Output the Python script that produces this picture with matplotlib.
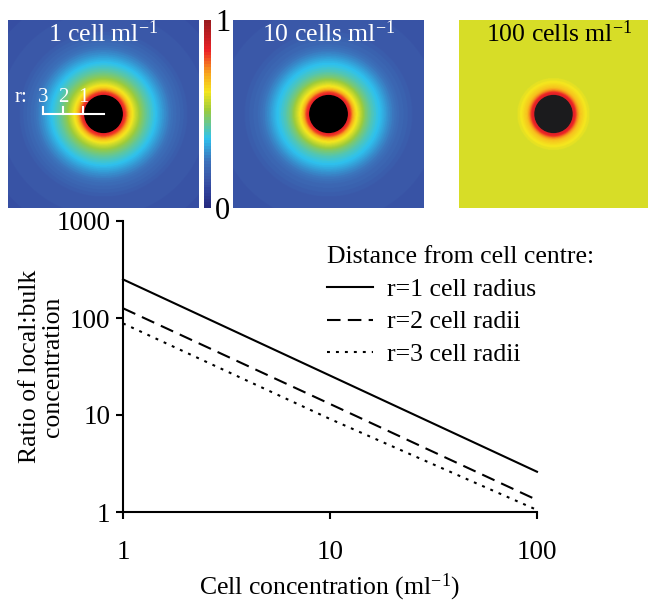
import numpy as np
import matplotlib
matplotlib.use("Agg")
import matplotlib.pyplot as plt
from matplotlib.colors import LinearSegmentedColormap, Normalize
from matplotlib.cm import ScalarMappable
from matplotlib.patches import Circle

plt.rcParams["font.family"] = ["Liberation Serif", "DejaVu Serif"]
plt.rcParams["mathtext.fontset"] = "custom"
plt.rcParams["mathtext.rm"] = "Liberation Serif"
plt.rcParams["mathtext.it"] = "Liberation Serif:italic"

# ratio of local:bulk concentration vs cell concentration
cell_conc = [1, 10, 100]
ratio_r1 = [250, 25.5, 2.6]
ratio_r2 = [126, 13.0, 1.33]
ratio_r3 = [88, 9.1, 1.05]
line_labels = ["r=1 cell radius", "r=2 cell radii", "r=3 cell radii"]

# radial profiles of the maps (distance in cell radii -> colour value)
panel_titles = ["1 cell ml$^{-1}$", "10 cells ml$^{-1}$", "100 cells ml$^{-1}$"]
cell_r = 0.93
prof_r = [0.93, 1.1, 1.2, 1.35, 1.6, 1.85, 2.15, 2.6, 3.0, 3.5, 4.2, 7.0]
prof_1 = [0.86, 0.81, 0.74, 0.65, 0.57, 0.50, 0.44, 0.37, 0.30, 0.23, 0.17, 0.13]
prof_10 = [0.86, 0.81, 0.73, 0.64, 0.56, 0.48, 0.42, 0.36, 0.29, 0.22, 0.17, 0.14]
prof_100 = [0.88, 0.83, 0.75, 0.67, 0.62, 0.59, 0.59, 0.59, 0.59, 0.59, 0.59, 0.59]
scale_ticks = [1, 2, 3]

cmap_pos = [0, 0.08, 0.15, 0.25, 0.37, 0.52, 0.62, 0.72, 0.84, 1.0]
cmap_cols = ["#262b80", "#2f409a", "#3a56a7", "#3c74bc", "#2ec3ef",
             "#9ccb3b", "#f5e61e", "#f8a51d", "#ec2227", "#9b1b1f"]
cmap = LinearSegmentedColormap.from_list("jetlike", list(zip(cmap_pos, cmap_cols)), N=64)

W, H = 649, 604
fig = plt.figure(figsize=(W / 100, H / 100), dpi=100)


def px_axes(x0, y0, x1, y1):
    return fig.add_axes([x0 / W, 1 - y1 / H, (x1 - x0) / W, (y1 - y0) / H])


half = 4.75
xs = np.linspace(-half, half, 400)
X, Y = np.meshgrid(xs, xs)
dist = np.hypot(X, Y)

panels = [
    ((8, 20, 199, 208), prof_1, "white", "black"),
    ((233, 20, 424, 208), prof_10, "white", "black"),
    ((459, 20, 648, 208), prof_100, "black", "#1b1b1d"),
]
for i, (box, prof, tcol, dcol) in enumerate(panels):
    a = px_axes(*box)
    field = np.interp(dist, prof_r, prof)
    a.imshow(field, cmap=cmap, vmin=0, vmax=1, extent=[-half, half, -half, half],
             origin="lower", aspect="auto", interpolation="bilinear")
    a.add_patch(Circle((0, 0), cell_r, color=dcol, zorder=3))
    a.set_xlim(-half, half)
    a.set_ylim(-half, half)
    a.set_axis_off()
    a.text(0.5 if i < 2 else 0.53, 0.93, panel_titles[i], transform=a.transAxes,
           ha="center", va="center", color=tcol, fontsize=18.5)
    if i == 0:
        a.plot([-scale_ticks[-1], 0], [0, 0], color="white", lw=1.5, zorder=4)
        for r in scale_ticks:
            a.plot([-r, -r], [0, 0.35], color="white", lw=1.5, zorder=4)
            a.text(-r, 0.85, str(r), color="white", ha="center", va="center", fontsize=15)
        a.text(-4.1, 0.85, "r:", color="white", ha="center", va="center", fontsize=15)

cax = px_axes(204, 20, 211, 208)
cb = fig.colorbar(ScalarMappable(norm=Normalize(0, 1), cmap=cmap), cax=cax, ticks=[0, 1])
cb.outline.set_visible(False)
cb.ax.tick_params(length=0, labelsize=22, pad=3)
cb.ax.set_yticklabels(["0", "1"])

# line plot
ax = px_axes(123, 221, 537, 512)
ax.plot(cell_conc, ratio_r1, color="black", lw=1.5, label=line_labels[0], clip_on=False)
ax.plot(cell_conc, ratio_r2, color="black", lw=1.5, dashes=(6.5, 3.5), label=line_labels[1], clip_on=False)
ax.plot(cell_conc, ratio_r3, color="black", lw=1.5, dashes=(1.4, 2.9), label=line_labels[2], clip_on=False)
ax.set_xscale("log")
ax.set_yscale("log")
ax.set_xlim(1, 100)
ax.set_ylim(1, 1000)
ax.set_xticks([1, 10, 100], ["1", "10", "100"])
ax.set_yticks([1, 10, 100, 1000], ["1", "10", "100", "1000"])
ax.minorticks_off()
for s in ["top", "right"]:
    ax.spines[s].set_visible(False)
for s in ["left", "bottom"]:
    ax.spines[s].set_linewidth(1.5)
ax.tick_params(width=1.5, length=5, labelsize=19.5)
ax.tick_params(axis="x", pad=15)
ax.tick_params(axis="y", pad=4)
ax.set_xlabel("Cell concentration (ml$^{-1}$)", fontsize=18.5, labelpad=5)
ax.set_ylabel("Ratio of local:bulk\nconcentration", fontsize=18.5, linespacing=1.05)
ax.yaxis.set_label_coords(-0.143, 0.5)

leg = ax.legend(loc="upper left", bbox_to_anchor=(327 / W, 1 - 246 / H),
                bbox_transform=fig.transFigure, frameon=False, fontsize=18.5,
                title="Distance from cell centre:", title_fontsize=18.5,
                alignment="left", handlelength=1.8, handletextpad=0.55,
                labelspacing=0.38, borderpad=0, borderaxespad=0)

fig.savefig("out.png", dpi=100)
